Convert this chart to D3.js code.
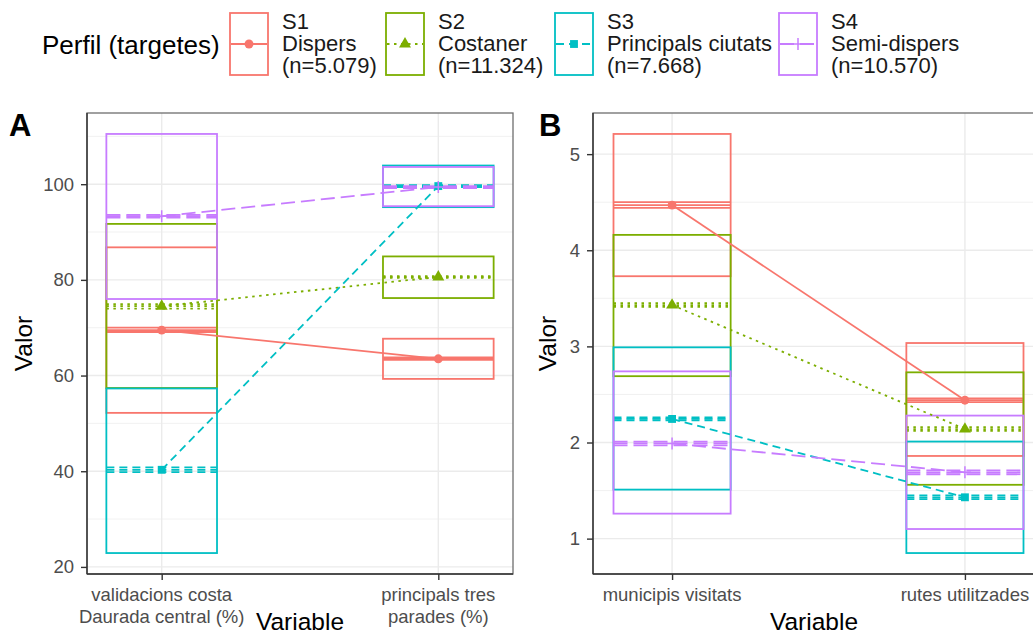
<!DOCTYPE html>
<html>
<head>
<meta charset="utf-8">
<script src="https://cdn.jsdelivr.net/npm/d3@7"></script>
<style>
  body { margin: 0; background: #fff; }
  text { font-family: "Liberation Sans", Arial, sans-serif; }
</style>
</head>
<body>
<div id="wrapper"></div>
<script>
// groups / legend
const groups = ["S1", "S2", "S3", "S4"];
const groupNames = ["Dispers", "Costaner", "Principals ciutats", "Semi-dispers"];
const groupN = ["(n=5.079)", "(n=11.324)", "(n=7.668)", "(n=10.570)"];

// panel A: two variables, values per group [var1, var2]
const varsA = ["validacions costa|Daurada central (%)", "principals tres|parades (%)"];
const meanA = [[69.5, 63.5], [74.5, 80.6], [40.3, 99.6], [93.3, 99.4]];
const ciLoA = [[69.1, 63.3], [74.0, 80.4], [39.8, 99.4], [93.0, 99.2]];
const ciHiA = [[70.0, 63.8], [74.9, 80.8], [40.8, 99.8], [93.6, 99.6]];
const boxLoA = [[52.2, 59.3], [57.4, 76.2], [22.9, 95.2], [76.0, 95.4]];
const boxHiA = [[86.8, 67.7], [91.7, 84.9], [57.3, 103.9], [110.5, 103.6]];
const ticksA = [20, 40, 60, 80, 100];
const minorA = [30, 50, 70, 90, 110];

// panel B
const varsB = ["municipis visitats", "rutes utilitzades"];
const meanB = [[4.47, 2.44], [3.43, 2.14], [2.245, 1.43], [1.99, 1.69]];
const ciLoB = [[4.44, 2.42], [3.41, 2.12], [2.23, 1.41], [1.97, 1.67]];
const ciHiB = [[4.50, 2.46], [3.45, 2.16], [2.26, 1.45], [2.01, 1.71]];
const boxLoB = [[3.73, 1.86], [2.69, 1.56], [1.51, 0.85], [1.26, 1.10]];
const boxHiB = [[5.21, 3.035], [4.16, 2.73], [2.99, 2.01], [2.74, 2.28]];
const ticksB = [1, 2, 3, 4, 5];
const minorB = [1.5, 2.5, 3.5, 4.5];

const color = d3.scaleOrdinal().domain(groups)
  .range(["#F8766D", "#7CAE00", "#00BFC4", "#C77CFF"]);
const dash = d3.scaleOrdinal().domain(groups)
  .range(["none", "2.5,4.5", "8,5", "14,6"]);

const svg = d3.select("#wrapper").append("svg")
  .attr("width", 1033).attr("height", 634);

function drawPoint(g, grp, x, y, s) {
  const c = color(grp);
  if (grp === "S4") {
    g.append("path")
      .attr("d", `M${x - s},${y}H${x + s}M${x},${y - s}V${y + s}`)
      .attr("stroke", c).attr("stroke-width", 1.5).attr("fill", "none");
    return;
  }
  const type = grp === "S1" ? d3.symbolCircle : grp === "S2" ? d3.symbolTriangle : d3.symbolSquare;
  g.append("path")
    .attr("d", d3.symbol().type(type).size(62)())
    .attr("transform", `translate(${x},${y})`)
    .attr("fill", c);
}

function panel(opt) {
  const { left, right, top, bottom, vars, mean, ciLo, ciHi, boxLo, boxHi, ticks, minor, tag, tagX, titleX, valorX } = opt;
  const lo = d3.min(boxLo.flat()), hi = d3.max(boxHi.flat());
  const pad = (hi - lo) * 0.05;
  const y = d3.scaleLinear().domain([lo - pad, hi + pad]).range([bottom, top]);
  const x = d3.scalePoint().domain(vars).range([left, right]).padding(0.27);
  const bw = x.step() * 0.4;

  const g = svg.append("g");
  // grid
  g.selectAll("line.minor").data(minor).enter().append("line")
    .attr("x1", left).attr("x2", right).attr("y1", d => y(d)).attr("y2", d => y(d))
    .attr("stroke", "#EEEEEE").attr("stroke-width", 0.8);
  g.selectAll("line.major").data(ticks).enter().append("line")
    .attr("x1", left).attr("x2", right).attr("y1", d => y(d)).attr("y2", d => y(d))
    .attr("stroke", "#EBEBEB").attr("stroke-width", 1.4);
  g.selectAll("line.vgrid").data(vars).enter().append("line")
    .attr("x1", d => x(d)).attr("x2", d => x(d)).attr("y1", top).attr("y2", bottom)
    .attr("stroke", "#EBEBEB").attr("stroke-width", 1.4);

  // crossbars
  groups.forEach((grp, gi) => {
    vars.forEach((v, vi) => {
      const cx = x(v);
      g.append("rect")
        .attr("x", cx - bw / 2).attr("width", bw)
        .attr("y", y(boxHi[gi][vi])).attr("height", y(boxLo[gi][vi]) - y(boxHi[gi][vi]))
        .attr("fill", "none").attr("stroke", color(grp)).attr("stroke-width", 1.8);
      [ciLo[gi][vi], mean[gi][vi], ciHi[gi][vi]].forEach(val => {
        g.append("line")
          .attr("x1", cx - bw / 2).attr("x2", cx + bw / 2)
          .attr("y1", y(val)).attr("y2", y(val))
          .attr("stroke", color(grp)).attr("stroke-width", 1.8)
          .attr("stroke-dasharray", dash(grp));
      });
    });
  });
  // connecting lines
  groups.forEach((grp, gi) => {
    const line = d3.line().x(d => x(d[0])).y(d => y(d[1]));
    g.append("path")
      .attr("d", line(vars.map((v, vi) => [v, mean[gi][vi]])))
      .attr("fill", "none").attr("stroke", color(grp)).attr("stroke-width", 1.8)
      .attr("stroke-dasharray", dash(grp));
  });
  groups.forEach((grp, gi) => {
    vars.forEach((v, vi) => drawPoint(g, grp, x(v), y(mean[gi][vi]), 6));
  });

  // border
  g.append("rect").attr("x", left).attr("y", top)
    .attr("width", right - left).attr("height", bottom - top)
    .attr("fill", "none").attr("stroke", "#6E6E6E").attr("stroke-width", 1.3);
  g.append("line").attr("x1", left).attr("x2", right).attr("y1", bottom).attr("y2", bottom)
    .attr("stroke", "#333").attr("stroke-width", 1.4);
  g.append("line").attr("x1", left).attr("x2", left).attr("y1", top).attr("y2", bottom)
    .attr("stroke", "#333").attr("stroke-width", 1.4);

  // y axis
  const ya = svg.append("g").attr("transform", `translate(${left},0)`)
    .call(d3.axisLeft(y).tickValues(ticks).tickFormat(d3.format("d")).tickSize(6).tickPadding(7));
  ya.select(".domain").remove();
  ya.selectAll(".tick line").attr("stroke", "#333").attr("stroke-width", 1.4);
  ya.selectAll(".tick text").attr("fill", "#4D4D4D").style("font-size", "18.5px")
    .style("font-family", "Liberation Sans, Arial, sans-serif");

  // x axis
  const xa = svg.append("g").attr("transform", `translate(0,${bottom})`)
    .call(d3.axisBottom(x).tickSize(6).tickFormat(""));
  xa.select(".domain").remove();
  xa.selectAll(".tick line").attr("stroke", "#333").attr("stroke-width", 1.4);
  vars.forEach(v => {
    const lines = v.split("|");
    const t = svg.append("text").attr("text-anchor", "middle")
      .attr("fill", "#4D4D4D").style("font-size", "18.5px");
    lines.forEach((l, i) => t.append("tspan").attr("x", x(v)).attr("y", bottom + 27 + i * 22).text(l));
  });

  svg.append("text").attr("x", titleX).attr("y", 630).attr("text-anchor", "middle")
    .style("font-size", "24.5px").text("Variable");
  svg.append("text").attr("transform", `translate(${valorX},${(top + bottom) / 2}) rotate(-90)`)
    .attr("text-anchor", "middle").style("font-size", "24.5px").text("Valor");
  svg.append("text").attr("x", tagX).attr("y", 136).style("font-size", "31px")
    .style("font-weight", "bold").text(tag);
}

panel({ left: 87, right: 513, top: 113, bottom: 574, vars: varsA, mean: meanA, ciLo: ciLoA, ciHi: ciHiA,
  boxLo: boxLoA, boxHi: boxHiA, ticks: ticksA, minor: minorA, tag: "A", tagX: 9, titleX: 300, valorX: 32 });
panel({ left: 593, right: 1044, top: 113, bottom: 574, vars: varsB, mean: meanB, ciLo: ciLoB, ciHi: ciHiB,
  boxLo: boxLoB, boxHi: boxHiB, ticks: ticksB, minor: minorB, tag: "B", tagX: 539, titleX: 814, valorX: 556 });

// legend
const keyX = [230, 386, 555, 779];
svg.append("text").attr("x", 42).attr("y", 54).style("font-size", "26px").text("Perfil (targetes)");
groups.forEach((grp, i) => {
  const kx = keyX[i];
  const lg = svg.append("g");
  lg.append("rect").attr("x", kx).attr("y", 13).attr("width", 38).attr("height", 62)
    .attr("fill", "none").attr("stroke", color(grp)).attr("stroke-width", 1.8);
  lg.append("line").attr("x1", kx + 1).attr("x2", kx + 37).attr("y1", 44).attr("y2", 44)
    .attr("stroke", color(grp)).attr("stroke-width", 1.8).attr("stroke-dasharray", dash(grp));
  drawPoint(lg, grp, kx + 19, 44, 6);
  const t = lg.append("text").style("font-size", "22px").attr("fill", "#1A1A1A");
  [grp, groupNames[i], groupN[i]].forEach((s, j) => {
    t.append("tspan").attr("x", kx + 52).attr("y", 29 + j * 22).text(s);
  });
});
</script>
</body>
</html>
